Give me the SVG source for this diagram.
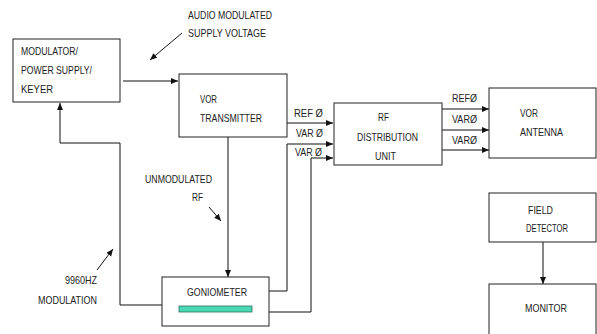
<svg xmlns="http://www.w3.org/2000/svg" width="597" height="334" viewBox="0 0 597 334">
<style>
.box{fill:#fff;stroke:#222;stroke-width:1}
.ln{fill:none;stroke:#111;stroke-width:1}
.t{font-family:"Liberation Sans",Arial,sans-serif;font-size:11px;fill:#222}
</style>
<defs>
<marker id="ah" markerUnits="userSpaceOnUse" markerWidth="8" markerHeight="7" refX="7" refY="3" orient="auto">
<path d="M0,0 L7,3 L0,6 z" fill="#111"/>
</marker>
</defs>
<rect width="597" height="334" fill="#fff"/>
<g id="connectors">
<path class="ln" d="M123,81 H178" marker-end="url(#ah)"/>
<path class="ln" d="M182,33 L150,60" marker-end="url(#ah)"/>
<path class="ln" d="M162,305 H120 V143 H60 V103" marker-end="url(#ah)"/>
<path class="ln" d="M228,137 V277" marker-end="url(#ah)"/>
<path class="ln" d="M209,207 L221,221" marker-end="url(#ah)"/>
<path class="ln" d="M97,270 L113,249" marker-end="url(#ah)"/>
<path class="ln" d="M287,123 H333" marker-end="url(#ah)"/>
<path class="ln" d="M269,291 H287 V144 H333" marker-end="url(#ah)"/>
<path class="ln" d="M269,312 H311 V158 H333" marker-end="url(#ah)"/>
<path class="ln" d="M442,109 H489" marker-end="url(#ah)"/>
<path class="ln" d="M442,130 H489" marker-end="url(#ah)"/>
<path class="ln" d="M442,150 H489" marker-end="url(#ah)"/>
<path class="ln" d="M543,242 V284" marker-end="url(#ah)"/>
</g>
<g id="labels">
<text class="t" x="188" y="19" textLength="84" lengthAdjust="spacingAndGlyphs">AUDIO MODULATED</text>
<text class="t" x="188" y="37" textLength="78" lengthAdjust="spacingAndGlyphs">SUPPLY VOLTAGE</text>
<text class="t" x="294" y="117" textLength="29" lengthAdjust="spacingAndGlyphs">REF Ø</text>
<text class="t" x="296" y="137" textLength="27" lengthAdjust="spacingAndGlyphs">VAR Ø</text>
<text class="t" x="295" y="156" textLength="27" lengthAdjust="spacingAndGlyphs">VAR Ø</text>
<text class="t" x="452" y="102" textLength="25" lengthAdjust="spacingAndGlyphs">REFØ</text>
<text class="t" x="452" y="123" textLength="25" lengthAdjust="spacingAndGlyphs">VARØ</text>
<text class="t" x="452" y="144" textLength="25" lengthAdjust="spacingAndGlyphs">VARØ</text>
<text class="t" x="145" y="183" textLength="67" lengthAdjust="spacingAndGlyphs">UNMODULATED</text>
<text class="t" x="192" y="201" textLength="11" lengthAdjust="spacingAndGlyphs">RF</text>
<text class="t" x="65" y="284" textLength="32" lengthAdjust="spacingAndGlyphs">9960HZ</text>
<text class="t" x="38" y="304" textLength="59" lengthAdjust="spacingAndGlyphs">MODULATION</text>
</g>
<g id="modulator">
<rect class="box" x="13" y="39" width="107" height="63"/>
<text class="t" x="21" y="55" textLength="57" lengthAdjust="spacingAndGlyphs">MODULATOR/</text>
<text class="t" x="21" y="74" textLength="71" lengthAdjust="spacingAndGlyphs">POWER SUPPLY/</text>
<text class="t" x="21" y="93" textLength="32" lengthAdjust="spacingAndGlyphs">KEYER</text>
</g>
<g id="vor-transmitter">
<rect class="box" x="179" y="74" width="108" height="63"/>
<text class="t" x="200" y="103" textLength="17" lengthAdjust="spacingAndGlyphs">VOR</text>
<text class="t" x="200" y="122" textLength="62" lengthAdjust="spacingAndGlyphs">TRANSMITTER</text>
</g>
<g id="rf-distribution">
<rect class="box" x="334" y="103" width="108" height="62"/>
<text class="t" x="378" y="121" textLength="11" lengthAdjust="spacingAndGlyphs">RF</text>
<text class="t" x="357" y="141" textLength="61" lengthAdjust="spacingAndGlyphs">DISTRIBUTION</text>
<text class="t" x="375" y="160" textLength="21" lengthAdjust="spacingAndGlyphs">UNIT</text>
</g>
<g id="vor-antenna">
<rect class="box" x="489" y="88" width="107" height="70"/>
<text class="t" x="520" y="117" textLength="18" lengthAdjust="spacingAndGlyphs">VOR</text>
<text class="t" x="520" y="136" textLength="43" lengthAdjust="spacingAndGlyphs">ANTENNA</text>
</g>
<g id="goniometer">
<rect class="box" x="162" y="277" width="107" height="49"/>
<text class="t" x="187" y="296" textLength="60" lengthAdjust="spacingAndGlyphs">GONIOMETER</text>
<rect x="179" y="306" width="73" height="6" fill="#48d8b4" stroke="#2f6f60" stroke-width="0.8"/>
</g>
<g id="field-detector">
<rect class="box" x="489" y="193" width="107" height="49"/>
<text class="t" x="528" y="214" textLength="25" lengthAdjust="spacingAndGlyphs">FIELD</text>
<text class="t" x="526" y="232" textLength="42" lengthAdjust="spacingAndGlyphs">DETECTOR</text>
</g>
<g id="monitor">
<rect class="box" x="489" y="284" width="107" height="60"/>
<text class="t" x="525" y="312" textLength="42" lengthAdjust="spacingAndGlyphs">MONITOR</text>
</g>
</svg>
